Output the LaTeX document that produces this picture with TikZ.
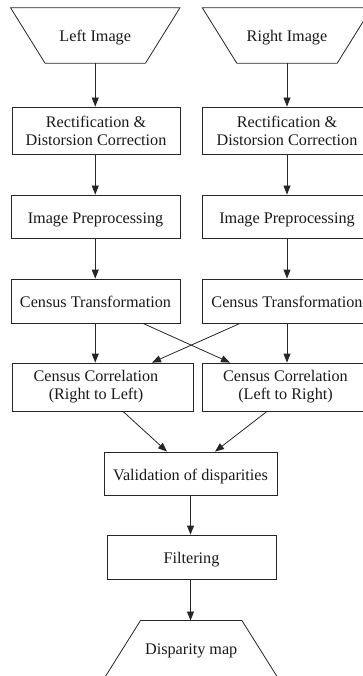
\documentclass[tikz,border=0pt]{standalone}
\usepackage{fontspec}
\setmainfont{Liberation Serif}
\usetikzlibrary{arrows.meta,calc}

\tikzset{
  flow/.style={line width=0.8pt, draw=black!85},
  stage/.style={flow, draw, rectangle, inner sep=0pt, align=center,
    font=\fontsize{16.2}{18}\selectfont, text=black!90},
  oneline/.style={text height=13pt, text depth=0pt},
  io/.style={rectangle, inner sep=0pt, align=center,
    minimum width=169pt, minimum height=55pt,
    font=\fontsize{16.2}{18}\selectfont, text=black!90,
    text height=13pt, text depth=0pt},
  link/.style={flow, -{Triangle[length=9pt,width=7pt]}},
}

\begin{document}
\begin{tikzpicture}[x=1pt,y=-1pt]
\useasboundingbox (0,0) rectangle (363,676);
\clip (0,0) rectangle (363,676);

% input images (inverted trapezoids)
\node[io] (lin) at (95.25,35.5) {Left Image};
\node[io] (rin) at (287,35.5) {Right Image};
\foreach \n in {lin,rin}
  \draw[flow] (\n.north west) -- (\n.north east)
    -- ([xshift=-34.5pt]\n.south east) -- ([xshift=34.5pt]\n.south west) -- cycle;

% left processing chain
\node[stage, minimum width=168pt, minimum height=47pt] (lrect) at (96,130.5)
  {Rectification \&\\Distorsion Correction};
\node[stage, oneline, minimum width=169pt, minimum height=43pt] (lpre) at (95.5,216.5)
  {Image Preprocessing};
\node[stage, oneline, minimum width=169pt, minimum height=44pt] (lct) at (95.5,301)
  {Census Transformation};

% right processing chain
\node[stage, minimum width=170pt, minimum height=47pt] (rrect) at (287,130.5)
  {Rectification \&\\Distorsion Correction};
\node[stage, oneline, minimum width=170pt, minimum height=43pt] (rpre) at (287,216.5)
  {Image Preprocessing};
\node[stage, oneline, minimum width=170pt, minimum height=44pt] (rct) at (287,301)
  {Census Transformation};

% correlation boxes
\node[stage, minimum width=181pt, minimum height=48pt] (lcc) at (102.5,387) {};
\node[align=center, inner sep=0pt, font=\fontsize{16.2}{18}\selectfont, text=black!90]
  (lcctext) at (96,387) {Census Correlation\\(Right to Left)};
\node[stage, minimum width=167pt, minimum height=48pt] (rcc) at (285.5,387)
  {Census Correlation\\(Left to Right)};

% merging and output
\node[stage, oneline, minimum width=173pt, minimum height=43pt] (val) at (190.5,473.5)
  {Validation of disparities};
\node[stage, oneline, minimum width=169pt, minimum height=44pt] (filt) at (191.5,557)
  {Filtering};
\node[io, minimum width=101pt, minimum height=55pt] (disp) at (191.2,648.2) {Disparity map};
\draw[flow] ([xshift=-36pt,yshift=-2pt]disp.south west) -- (disp.north west)
  -- (disp.north east) -- ([xshift=36pt,yshift=-2pt]disp.south east);

% vertical connectors
\draw[link] (lin.south) -- (lin.south |- lrect.north);
\draw[link] (lin.south |- lrect.south) -- (lin.south |- lpre.north);
\draw[link] (lin.south |- lpre.south) -- (lin.south |- lct.north);
\draw[link] (lin.south |- lct.south) -- (lin.south |- lcc.north);
\draw[link] (rin.south) -- (rin.south |- rrect.north);
\draw[link] (rin.south |- rrect.south) -- (rin.south |- rpre.north);
\draw[link] (rin.south |- rpre.south) -- (rin.south |- rct.north);
\draw[link] (rin.south |- rct.south) -- (rin.south |- rcc.north);

% crossing connectors
\draw[link] ([xshift=47.5pt]lct.south) -- ([xshift=-55.5pt]rcc.north);
\draw[link] ([xshift=-47pt]rct.south) -- ([xshift=49.5pt]lcc.north);

% into validation
\draw[link] ([xshift=20.5pt]lcc.south) -- ([xshift=-23.5pt]val.north);
\draw[link] ([xshift=-18.5pt]rcc.south) -- ([xshift=24.5pt]val.north);

\draw[link] (val.south) -- (val.south |- filt.north);
\draw[link] (val.south |- filt.south) -- (val.south |- disp.north);
\end{tikzpicture}
\end{document}
